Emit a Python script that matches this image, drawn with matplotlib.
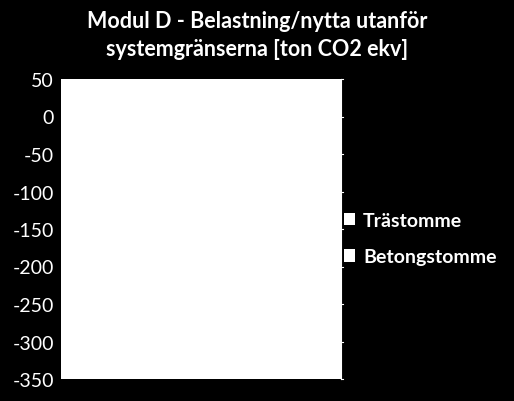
import matplotlib.pyplot as plt
import numpy as np

# Data (bars are white on a white plot area in the reference, so values are estimates)
categories = ['Modul D']
series_names = ['Trästomme', 'Betongstomme']
tra_values = [-300]
betong_values = [-50]
y_ticks = [50, 0, -50, -100, -150, -200, -250, -300, -350]

plt.rcParams['font.family'] = ['Lato', 'DejaVu Sans']

fig = plt.figure(figsize=(5.14, 4.02), dpi=100, facecolor='black')
ax = fig.add_axes([61 / 514, 1 - 380 / 402, 280 / 514, 300 / 402])
ax.set_facecolor('white')

x = np.arange(len(categories))
w = 0.3
ax.bar(x - w / 2, tra_values, w, color='white', label=series_names[0])
ax.bar(x + w / 2, betong_values, w, color='white', label=series_names[1])

ax.set_ylim(-350, 50)
ax.set_yticks(y_ticks)
ax.set_yticklabels([str(v) for v in y_ticks], color='white', fontsize=14)
ax.set_xticks([])
ax.set_xlim(-0.5, 0.5)

for s in ['top', 'bottom', 'left']:
    ax.spines[s].set_visible(False)
ax.spines['right'].set_color('white')
ax.tick_params(axis='y', length=0, pad=5)

# small outward ticks on the right edge
for v in y_ticks:
    ax.plot([1.0, 1.008], [v, v], color='white', lw=0.8,
            transform=ax.get_yaxis_transform(), clip_on=False)

fig.text(0.5, 1 - 22 / 402, 'Modul D - Belastning/nytta utanför', color='white',
         fontsize=15.5, fontweight='bold', ha='center', va='center')
fig.text(0.5, 1 - 50 / 402, 'systemgränserna [ton CO2 ekv]', color='white',
         fontsize=15.5, fontweight='bold', ha='center', va='center')

leg = fig.legend(loc='upper left', bbox_to_anchor=(336 / 514, 1 - 205 / 402),
                 frameon=False, fontsize=14, handlelength=0.6, handleheight=0.6,
                 handletextpad=0.4, labelspacing=1.0, borderaxespad=0)
for t in leg.get_texts():
    t.set_color('white')
    t.set_fontweight('bold')

plt.savefig('out.png', dpi=100, facecolor='black')
